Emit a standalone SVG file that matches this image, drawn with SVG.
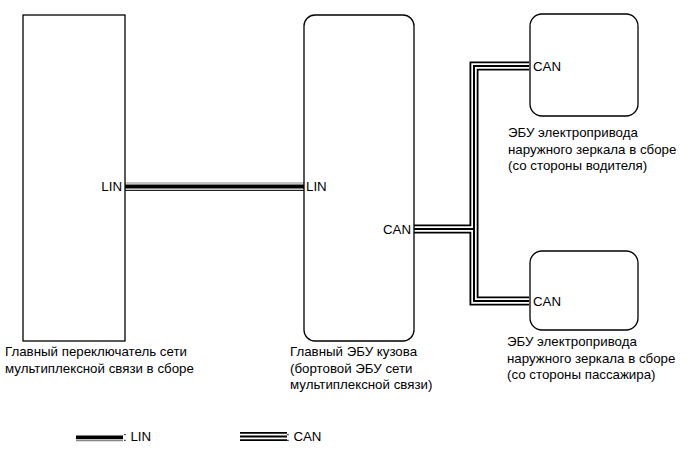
<svg xmlns="http://www.w3.org/2000/svg" width="690" height="467" viewBox="0 0 690 467">
<style>
.box{fill:#fff;stroke:#000;stroke-width:1.3}
text{font-family:"Liberation Sans",Arial,sans-serif;font-size:13.3px;fill:#000}
.canO{fill:none;stroke:#000;stroke-width:9}
.canW{fill:none;stroke:#fff;stroke-width:5.4}
.canI{fill:none;stroke:#000;stroke-width:2}
</style>
<rect width="690" height="467" fill="#fff"/>
<g id="connectors">
<g id="lin">
<line x1="125" y1="183" x2="304" y2="183" stroke="#888" stroke-width="1.2"/>
<line x1="125" y1="186.4" x2="304" y2="186.4" stroke="#000" stroke-width="4"/>
<line x1="125" y1="190.3" x2="304" y2="190.3" stroke="#222" stroke-width="1.2"/>
</g>
<g id="can">
<path class="canO" d="M414 229H474M529 66H474V301H529"/>
<path class="canW" d="M414 229H474M529 66H474V301H529"/>
<path class="canI" d="M414 229H474M529 66H474V301H529"/>
</g>
</g>
<g id="node-switch">
<rect class="box" x="23" y="15" width="102" height="326"/>
<text x="122" y="191" text-anchor="end">LIN</text>
<text x="5" y="356">Главный переключатель сети</text>
<text x="5" y="372.5">мультиплексной связи в сборе</text>
</g>
<g id="node-body-ecu">
<rect class="box" x="304" y="15" width="110" height="326" rx="11"/>
<text x="306" y="191">LIN</text>
<text x="411" y="234" text-anchor="end">CAN</text>
<text x="290" y="356">Главный ЭБУ кузова</text>
<text x="290" y="372.5">(бортовой ЭБУ сети</text>
<text x="290" y="389">мультиплексной связи)</text>
</g>
<g id="node-mirror-driver">
<rect class="box" x="530" y="14" width="108" height="102" rx="12"/>
<text x="533" y="71">CAN</text>
<text x="508" y="137">ЭБУ электропривода</text>
<text x="508" y="153.5">наружного зеркала в сборе</text>
<text x="508" y="170">(со стороны водителя)</text>
</g>
<g id="node-mirror-passenger">
<rect class="box" x="530" y="251" width="108" height="79" rx="12"/>
<text x="533" y="306">CAN</text>
<text x="507" y="346">ЭБУ электропривода</text>
<text x="507" y="362.5">наружного зеркала в сборе</text>
<text x="507" y="379">(со стороны пассажира)</text>
</g>
<g id="legend">
<line x1="76" y1="437.3" x2="123" y2="437.3" stroke="#000" stroke-width="3.8"/>
<line x1="76" y1="440.6" x2="123" y2="440.6" stroke="#888" stroke-width="1.2"/>
<text x="123" y="441">: LIN</text>
<path class="canO" d="M240 436.5H287"/>
<path class="canW" d="M240 436.5H287"/>
<path class="canI" d="M240 436.5H287"/>
<text x="286" y="441">: CAN</text>
</g>
</svg>
